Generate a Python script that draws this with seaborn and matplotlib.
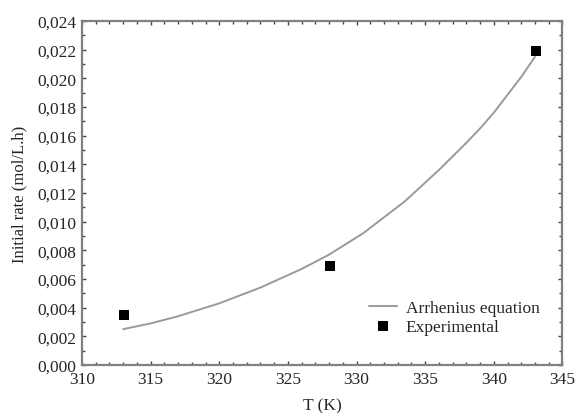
import matplotlib
matplotlib.use("Agg")
import matplotlib.pyplot as plt
import seaborn as sns
import pandas as pd
from matplotlib.ticker import MultipleLocator, FuncFormatter

# Arrhenius fit curve (temperature in K, rate in mol/L.h)
curve_T = [313, 315, 317, 320, 323, 326, 328, 330.5, 333.5, 336, 338, 339, 340, 342, 343]
curve_rate = [0.0025, 0.0029, 0.0034, 0.0043, 0.0054, 0.0067, 0.0077, 0.0092,
              0.0114, 0.0136, 0.0155, 0.0165, 0.0176, 0.0201, 0.0215]

# Measured initial rates
exp_T = [313.05, 328.05, 343.1]
exp_rate = [0.0035, 0.0069, 0.0219]

curve_label = "Arrhenius equation"
exp_label = "Experimental"

sns.set_style("ticks")
plt.rcParams["font.family"] = ["Liberation Serif", "DejaVu Serif"]

fig = plt.figure(figsize=(5.76, 4.14), dpi=100)
ax = fig.add_axes([0.1424, 0.116, 0.8340, 0.8309])

curve_df = pd.DataFrame({"T": curve_T, "rate": curve_rate})
exp_df = pd.DataFrame({"T": exp_T, "rate": exp_rate})

sns.lineplot(data=curve_df, x="T", y="rate", ax=ax, color="#9a9a9a",
             linewidth=1.4, label=curve_label, sort=True)
sns.scatterplot(data=exp_df, x="T", y="rate", ax=ax, marker="s", s=60,
                color="black", edgecolor="black", linewidth=0, label=exp_label,
                zorder=3)

ax.set_xlim(310, 345)
ax.set_ylim(0, 0.024)
ax.xaxis.set_major_locator(MultipleLocator(5))
ax.xaxis.set_minor_locator(MultipleLocator(1))
ax.yaxis.set_major_locator(MultipleLocator(0.002))
ax.yaxis.set_minor_locator(MultipleLocator(0.001))
ax.yaxis.set_major_formatter(FuncFormatter(lambda v, p: f"{v:.3f}".replace(".", ",")))
ax.xaxis.set_major_formatter(FuncFormatter(lambda v, p: f"{v:.0f}"))

ax.tick_params(which="both", direction="in", top=True, right=True,
               color="#444444", width=1.0)
ax.tick_params(which="major", length=3, labelsize=12.5, labelcolor="#262626", pad=4)
ax.tick_params(which="minor", length=2)

for side in ["left", "right", "top", "bottom"]:
    ax.spines[side].set_visible(True)
    ax.spines[side].set_color("#808080")
    ax.spines[side].set_linewidth(1.6)

ax.set_xlabel("T (K)", fontsize=12.5, color="#262626", labelpad=8)
ax.set_ylabel("Initial rate (mol/L.h)", fontsize=12, color="#262626", labelpad=7)

leg = ax.legend(loc="lower right", bbox_to_anchor=(0.985, 0.042), frameon=False,
                fontsize=12.5, handlelength=1.6, handletextpad=0.5,
                labelspacing=0.15)
for t in leg.get_texts():
    t.set_color("#262626")

fig.savefig("out.png", dpi=100)
